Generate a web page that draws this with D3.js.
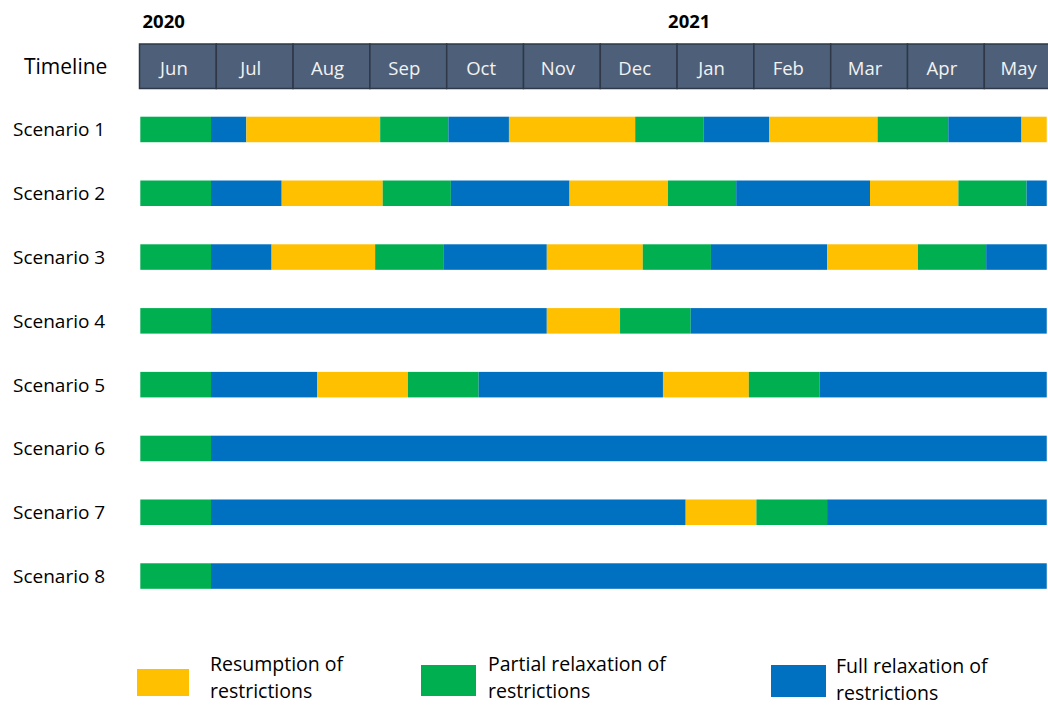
<!DOCTYPE html>
<html>
<head>
<meta charset="utf-8" />
<script src="https://d3js.org/d3.v7.min.js"></script>
<style>
  body { margin: 0; background: #fff; }
  text { font-family: "Open Sans", "Noto Sans", sans-serif; }
</style>
</head>
<body>
<div id="chart"></div>
<script>
// months shown in the timeline header (Jun 2020 - May 2021)
var months = ["Jun", "Jul", "Aug", "Sep", "Oct", "Nov", "Dec", "Jan", "Feb", "Mar", "Apr", "May"];
var years = [{ label: "2020", month: "Jun" }, { label: "2021", month: "Jan" }];

var scenarios = ["Scenario 1", "Scenario 2", "Scenario 3", "Scenario 4",
                 "Scenario 5", "Scenario 6", "Scenario 7", "Scenario 8"];

// phase codes: R = resumption, P = partial relaxation, F = full relaxation
var phaseNames = { R: "Resumption of restrictions", P: "Partial relaxation of restrictions", F: "Full relaxation of restrictions" };
var phaseOrder = ["R", "P", "F"];

// each phase: [code, end day] counted in days from 1 June 2020
var scenario1 = [["P", 28], ["F", 42], ["R", 95], ["P", 122], ["F", 146], ["R", 196], ["P", 223], ["F", 249], ["R", 292], ["P", 320], ["F", 349], ["R", 359]];
var scenario2 = [["P", 28], ["F", 56], ["R", 96], ["P", 123], ["F", 170], ["R", 209], ["P", 236], ["F", 289], ["R", 324], ["P", 351], ["F", 359]];
var scenario3 = [["P", 28], ["F", 52], ["R", 93], ["P", 120], ["F", 161], ["R", 199], ["P", 226], ["F", 272], ["R", 308], ["P", 335], ["F", 359]];
var scenario4 = [["P", 28], ["F", 161], ["R", 190], ["P", 218], ["F", 359]];
var scenario5 = [["P", 28], ["F", 70], ["R", 106], ["P", 134], ["F", 207], ["R", 241], ["P", 269], ["F", 359]];
var scenario6 = [["P", 28], ["F", 359]];
var scenario7 = [["P", 28], ["F", 216], ["R", 244], ["P", 272], ["F", 359]];
var scenario8 = [["P", 28], ["F", 359]];

var phaseData = [scenario1, scenario2, scenario3, scenario4, scenario5, scenario6, scenario7, scenario8];

var colors = { R: "#FFC000", P: "#00B050", F: "#0070C0" };

var W = 1048, H = 706;

var svg = d3.select("#chart").append("svg")
  .attr("width", W)
  .attr("height", H);

// header month bands
var monthWidth = 76.8;
var x0 = 139.5;
var xMonth = d3.scaleBand()
  .domain(months)
  .range([x0, x0 + monthWidth * months.length]);

// day scale for the scenario bars
var xDay = d3.scaleLinear()
  .domain([0, 365])
  .range([x0, x0 + monthWidth * months.length]);

var y = d3.scaleBand()
  .domain(scenarios)
  .range([116.7, 588.8])
  .paddingInner(0.6)
  .paddingOuter(0);

// header
var header = svg.append("g").attr("class", "header");

header.selectAll("rect")
  .data(months).enter()
  .append("rect")
  .attr("x", function (d) { return xMonth(d); })
  .attr("y", 44)
  .attr("width", xMonth.bandwidth())
  .attr("height", 44.5)
  .style("fill", "#4E6079")
  .style("stroke", "#2E3847")
  .style("stroke-width", 1.5);

header.selectAll("text.month")
  .data(months).enter()
  .append("text")
  .attr("class", "month")
  .attr("x", function (d) { return xMonth(d) + xMonth.bandwidth() / 2 - 4; })
  .attr("y", 75)
  .attr("text-anchor", "middle")
  .style("font-size", "18.5px")
  .style("fill", "#F2F2F2")
  .text(function (d) { return d; });

header.selectAll("text.year")
  .data(years).enter()
  .append("text")
  .attr("class", "year")
  .attr("x", function (d) { return d.label == "2020" ? xMonth(d.month) + 3 : xMonth(d.month) - 9; })
  .attr("y", 28)
  .style("font-size", "18.5px")
  .style("font-weight", "bold")
  .style("fill", "#000")
  .text(function (d) { return d.label; });

svg.append("text")
  .attr("x", 24)
  .attr("y", 74)
  .style("font-size", "21px")
  .style("fill", "#000")
  .text("Timeline");

// scenario rows
var rows = svg.selectAll("g.row")
  .data(scenarios).enter()
  .append("g")
  .attr("class", "row")
  .attr("transform", function (d) { return "translate(0," + y(d) + ")"; });

rows.append("text")
  .attr("x", 13)
  .attr("y", y.bandwidth() / 2 + 7)
  .style("font-size", "19px")
  .style("fill", "#000")
  .text(function (d) { return d; });

rows.each(function (d, i) {
  var segs = phaseData[i].map(function (p, j) {
    return { code: p[0], start: j == 0 ? 0 : phaseData[i][j - 1][1], end: p[1] };
  });
  d3.select(this).selectAll("rect")
    .data(segs).enter()
    .append("rect")
    .attr("x", function (s) { return xDay(s.start) + 0.8; })
    .attr("y", 0)
    .attr("width", function (s) { return xDay(s.end) - xDay(s.start); })
    .attr("height", y.bandwidth())
    .style("fill", function (s) { return colors[s.code]; });
});

// legend
var legendX = [137, 421, 771];
var legendTextX = [210, 488, 836];
var legendSizes = [[52, 27, 669], [55, 31, 665], [55, 32, 665]];
var legend = svg.selectAll("g.legend")
  .data(phaseOrder).enter()
  .append("g")
  .attr("class", "legend");

legend.append("rect")
  .attr("x", function (d, i) { return legendX[i]; })
  .attr("y", function (d, i) { return legendSizes[i][2]; })
  .attr("width", function (d, i) { return legendSizes[i][0]; })
  .attr("height", function (d, i) { return legendSizes[i][1]; })
  .style("fill", function (d) { return colors[d]; });

legend.each(function (d, i) {
  var words = phaseNames[d];
  var cut = words.lastIndexOf(" restrictions");
  var lines = [words.slice(0, cut), "restrictions"];
  var tx = legendTextX[i];
  var t = d3.select(this).append("text")
    .attr("x", tx)
    .attr("y", i == 2 ? 673 : 671)
    .style("font-size", "19.5px")
    .style("fill", "#000");
  t.selectAll("tspan")
    .data(lines).enter()
    .append("tspan")
    .attr("x", tx)
    .attr("dy", function (l, k) { return k == 0 ? 0 : 27; })
    .text(function (l) { return l; });
});
</script>
</body>
</html>
